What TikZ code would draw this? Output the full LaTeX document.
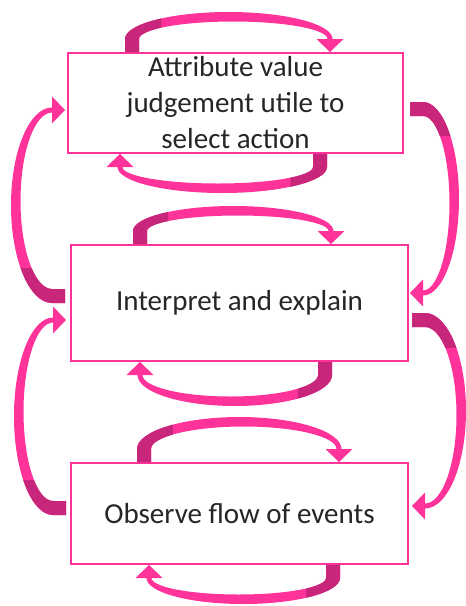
\documentclass[tikz,border=0pt]{standalone}
\usepackage{fontspec}
\setmainfont{Carlito}
\usetikzlibrary{calc}
\definecolor{ArcPink}{HTML}{FF3399}
\definecolor{ArcDark}{HTML}{C8267A}
\definecolor{TextGrey}{HTML}{262626}

% tapered ribbon arrow: half chord #1, bulge #2 (local frame, tip on y=0)
\newcommand{\arcshape}[2]{(-#1,0) -- (-#1,13)
  arc[start angle=180, end angle=0, x radius=#1, y radius=#2]
  -- ++(11,0) -- (#1-2.5,0) -- (#1-16,13) -- (#1-5,13)
  arc[start angle=0, end angle=180, x radius=#1-9.5, y radius=#2-9.5]
  -- (-#1+14,0) -- cycle}
% #1 origin, #2 rotation, #3 half chord, #4 bulge
\newcommand{\flowarc}[4]{%
  \begin{scope}[shift={#1}, rotate=#2]
    \fill[ArcPink] \arcshape{#3}{#4};
    \begin{scope}
      \clip (-#3-20,-5) rectangle (-0.65*#3,#4+25);
      \fill[ArcDark] \arcshape{#3}{#4};
    \end{scope}
  \end{scope}}

\begin{document}
\begin{tikzpicture}[
    x=1pt, y=1pt,
    box/.style={draw=ArcPink, line width=2pt, fill=white, text=TextGrey,
                align=center, inner sep=0pt, minimum width=337pt,
                minimum height=101pt,
                font=\fontsize{29}{36}\selectfont},
  ]
    \useasboundingbox (0,0) rectangle (466,-606);
    % ---- boxes ----
    \node[box, minimum width=335pt, minimum height=100pt] (judge) at (235.5,-103)
      {Attribute value\\judgement utile to\\select action};
    \node[box, minimum height=116pt] (interp)  at (239.5,-303)   {Interpret and explain};
    \node[box]                       (observe) at (239.5,-513.5) {Observe flow of events};
    % ---- loops on top and bottom of each box ----
    \flowarc{($(judge.north)+(-6.75,0)$)}{0}{103.75}{27}
    \flowarc{($(judge.south)+(-13.25,0)$)}{180}{104.75}{26}
    \flowarc{($(interp.north)+(-6.25,0)$)}{0}{100.25}{25}
    \flowarc{($(interp.south)+(-4.75,0)$)}{180}{97.25}{31}
    \flowarc{($(observe.north)+(-0.25,0)$)}{0}{102.25}{32}
    \flowarc{($(observe.south)+(3.75,0)$)}{180}{96.75}{26}
    % ---- arcs between boxes ----
    \flowarc{($(judge.west)!.5!(interp.west)+(-3.5,-2.25)$)}{90}{97.75}{41}
    \flowarc{($(interp.west)!.5!(observe.west)+(-4,-8)$)}{90}{98.75}{39}
    \flowarc{($(judge.east)!.5!(interp.east)+(3.5,4.25)$)}{-90}{96.75}{36}
    \flowarc{($(interp.east)!.5!(observe.east)+(3,-2.5)$)}{-90}{97.75}{41}
\end{tikzpicture}
\end{document}
